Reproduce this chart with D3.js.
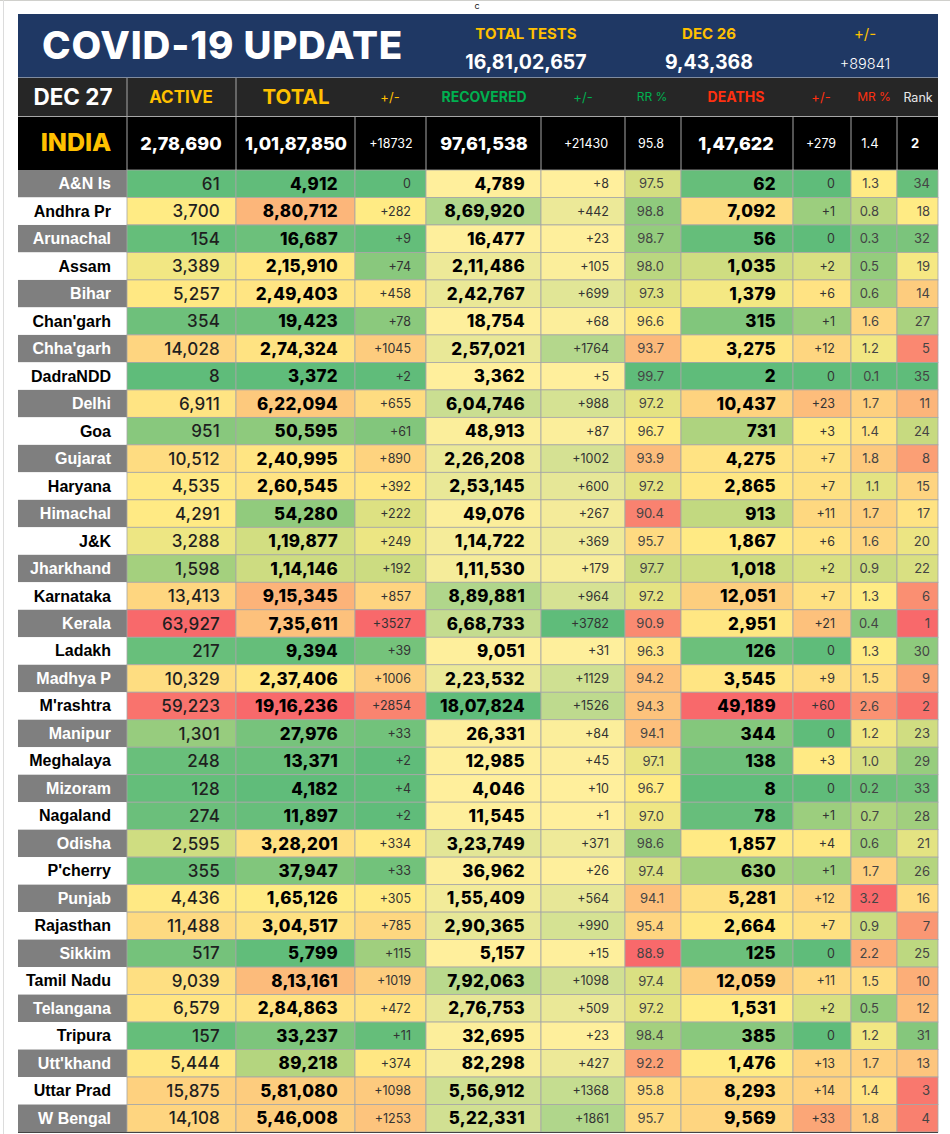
<!DOCTYPE html>
<html>
<head>
<meta charset="utf-8">
<script src="https://cdn.jsdelivr.net/npm/d3@7"></script>
<style>
  body { margin: 0; background: #fff; }
  text { font-family: Inter, sans-serif; dominant-baseline: alphabetic; }
</style>
</head>
<body>
<svg id="chart" width="950" height="1134"></svg>
<script>
// values
var states = ["A&N Is","Andhra Pr","Arunachal","Assam","Bihar","Chan'garh","Chha'garh","DadraNDD","Delhi","Goa","Gujarat","Haryana","Himachal","J&K","Jharkhand","Karnataka","Kerala","Ladakh","Madhya P","M'rashtra","Manipur","Meghalaya","Mizoram","Nagaland","Odisha","P'cherry","Punjab","Rajasthan","Sikkim","Tamil Nadu","Telangana","Tripura","Utt'khand","Uttar Prad","W Bengal"];
var active = [61,3700,154,3389,5257,354,14028,8,6911,951,10512,4535,4291,3288,1598,13413,63927,217,10329,59223,1301,248,128,274,2595,355,4436,11488,517,9039,6579,157,5444,15875,14108];
var total = [4912,880712,16687,215910,249403,19423,274324,3372,622094,50595,240995,260545,54280,119877,114146,915345,735611,9394,237406,1916236,27976,13371,4182,11897,328201,37947,165126,304517,5799,813161,284863,33237,89218,581080,546008];
var totalDelta = [0,282,9,74,458,78,1045,2,655,61,890,392,222,249,192,857,3527,39,1006,2854,33,2,4,2,334,33,305,785,115,1019,472,11,374,1098,1253];
var recovered = [4789,869920,16477,211486,242767,18754,257021,3362,604746,48913,226208,253145,49076,114722,111530,889881,668733,9051,223532,1807824,26331,12985,4046,11545,323749,36962,155409,290365,5157,792063,276753,32695,82298,556912,522331];
var recoveredDelta = [8,442,23,105,699,68,1764,5,988,87,1002,600,267,369,179,964,3782,31,1129,1526,84,45,10,1,371,26,564,990,15,1098,509,23,427,1368,1861];
var recoveryRate = [97.5,98.8,98.7,98.0,97.3,96.6,93.7,99.7,97.2,96.7,93.9,97.2,90.4,95.7,97.7,97.2,90.9,96.3,94.2,94.3,94.1,97.1,96.7,97.0,98.6,97.4,94.1,95.4,88.9,97.4,97.2,98.4,92.2,95.8,95.7];
var deaths = [62,7092,56,1035,1379,315,3275,2,10437,731,4275,2865,913,1867,1018,12051,2951,126,3545,49189,344,138,8,78,1857,630,5281,2664,125,12059,1531,385,1476,8293,9569];
var deathsDelta = [0,1,0,2,6,1,12,0,23,3,7,7,11,6,2,7,21,0,9,60,0,3,0,1,4,1,12,7,0,11,2,0,13,14,33];
var mortalityRate = [1.3,0.8,0.3,0.5,0.6,1.6,1.2,0.1,1.7,1.4,1.8,1.1,1.7,1.6,0.9,1.3,0.4,1.3,1.5,2.6,1.2,1.0,0.2,0.7,0.6,1.7,3.2,0.9,2.2,1.5,0.5,1.2,1.7,1.4,1.8];
var rank = [34,18,32,19,14,27,5,35,11,24,8,15,17,20,22,6,1,30,9,2,23,29,33,28,21,26,16,7,25,10,12,31,13,3,4];

var indiaRow = ["2,78,690","1,01,87,850","+18732","97,61,538","+21430","95.8","1,47,622","+279","1.4","2"];
var headLabels = ["ACTIVE","TOTAL","+/-","RECOVERED","+/-","RR %","DEATHS","+/-","MR %","Rank"];

var green = "#5FBC7A", yellow = "#FFEB84", red = "#F8696B", paleYellow = "#FFEF9C";

// indian digit grouping, 12,34,567
var inr = d3.formatLocale({ decimal: ".", thousands: ",", grouping: [3,2,2,2,2], currency: ["",""] }).format(",d");
var delta = function(v) { return v > 0 ? "+" + v : "0"; };
var fixed1 = d3.format(".1f");

// 3 colour scale like the spreadsheet one: min, midpoint percentile, max
function heat(values, reverse, pct) {
  var sorted = values.slice().sort(d3.ascending);
  var dom = [sorted[0], d3.quantileSorted(sorted, pct || 0.5), sorted[sorted.length - 1]];
  return d3.scaleLinear().domain(dom).range(reverse ? [red, yellow, green] : [green, yellow, red]);
}
function ramp(values) {
  return d3.scaleLinear().domain(d3.extent(values)).range([paleYellow, green]);
}

var columns = [
  { values: active, text: inr, color: heat(active), right: 220, size: 17, weight: 500, fill: "#1f1f1f", spacing: 0.2 },
  { values: total, text: inr, color: heat(total), right: 338, size: 17, weight: 800, fill: "#000", spacing: 0.3 },
  { values: totalDelta, text: delta, color: heat(totalDelta), right: 411, size: 12.5, weight: 400, fill: "#333", spacing: 0 },
  { values: recovered, text: inr, color: ramp(recovered), right: 525, size: 17, weight: 800, fill: "#000", spacing: 0.3 },
  { values: recoveredDelta, text: delta, color: ramp(recoveredDelta), right: 609, size: 12.5, weight: 400, fill: "#333", spacing: 0 },
  { values: recoveryRate, text: fixed1, color: heat(recoveryRate, true), right: 664, size: 13, weight: 400, fill: "#444", spacing: 0 },
  { values: deaths, text: inr, color: heat(deaths), right: 776, size: 17, weight: 800, fill: "#000", spacing: 0.3 },
  { values: deathsDelta, text: delta, color: heat(deathsDelta, false, 0.43), right: 835, size: 12.5, weight: 400, fill: "#333", spacing: 0 },
  { values: mortalityRate, text: fixed1, color: heat(mortalityRate), right: 879, size: 13, weight: 400, fill: "#444", spacing: 0 },
  { values: rank, text: String, color: heat(rank, true), right: 930, size: 13, weight: 400, fill: "#444", spacing: 0 }
];

var edges = [127,236,355,426,541,625,681,793,851,897,938];
var left = 18, bodyTop = 170, bodyBottom = 1132;

var svg = d3.select("#chart");
var y = d3.scaleBand().domain(states).range([bodyTop, bodyBottom]);
var x = d3.scaleOrdinal().domain(d3.range(columns.length + 1)).range(edges);

// frame of the screenshot
svg.append("rect").attr("width", 950).attr("height", 1).attr("fill", "#d0d0cc");
svg.append("rect").attr("x", 3).attr("width", 1).attr("height", 1134).attr("fill", "#dcdcdc");
svg.append("text").attr("x", 477).attr("y", 9).attr("text-anchor", "middle")
  .style("font-size", "9px").attr("fill", "#222").text("c");

// banner
svg.append("rect").attr("x", left).attr("y", 14).attr("width", 920).attr("height", 63).attr("fill", "#1F3864");
svg.append("text").attr("x", 42).attr("y", 59).attr("fill", "#fff")
  .style("font-size", "38.5px").style("font-weight", 800).style("letter-spacing", "0.8px").text("COVID-19 UPDATE");

var gold = "#FFC000";
var banner = [
  { cx: 526, top: "TOTAL TESTS", val: "16,81,02,657", w: 700, s: 19.5, t: 15 },
  { cx: 709, top: "DEC 26", val: "9,43,368", w: 700, s: 19.5, t: 15 },
  { cx: 865, top: "+/-", val: "+89841", w: 300, s: 14.5, t: 15 }
];
banner.forEach(function(b) {
  svg.append("text").attr("x", b.cx).attr("y", 39).attr("text-anchor", "middle").attr("fill", gold)
    .style("font-size", b.t + "px").style("font-weight", b.w === 700 ? 700 : 400).text(b.top);
  svg.append("text").attr("x", b.cx).attr("y", 69).attr("text-anchor", "middle").attr("fill", "#fff")
    .style("font-size", b.s + "px").style("font-weight", b.w).text(b.val);
});

// header rows
svg.append("rect").attr("x", left).attr("y", 78).attr("width", 920).attr("height", 39).attr("fill", "#262626");
svg.append("rect").attr("x", left).attr("y", 117).attr("width", 920).attr("height", 53).attr("fill", "#000");

svg.append("text").attr("x", 73).attr("y", 105).attr("text-anchor", "middle").attr("fill", "#fff")
  .style("font-size", "22.5px").style("font-weight", 700).text("DEC 27");
svg.append("text").attr("x", 76).attr("y", 151).attr("text-anchor", "middle").attr("fill", gold)
  .style("font-size", "25px").style("font-weight", 800).text("INDIA");

var headStyle = [
  { c: gold, s: 17, w: 700, cx: 181 }, { c: gold, s: 20.5, w: 700, cx: 296 }, { c: gold, s: 13, w: 400, cx: 390 },
  { c: "#00B050", s: 14, w: 700, cx: 484 }, { c: "#00B050", s: 13, w: 400, cx: 583 }, { c: "#00B050", s: 12, w: 400, cx: 652 },
  { c: "#FF3010", s: 14, w: 700, cx: 736 }, { c: "#FF3010", s: 13, w: 400, cx: 821 }, { c: "#FF3010", s: 12, w: 400, cx: 874 },
  { c: "#e8e8e8", s: 12.5, w: 400, cx: 918 }
];
svg.selectAll("text.head").data(headLabels).join("text").attr("class", "head")
  .attr("x", function(d, i) { return headStyle[i].cx; })
  .attr("y", function(d, i) { return 97 + headStyle[i].s * 0.36; })
  .attr("text-anchor", "middle")
  .attr("fill", function(d, i) { return headStyle[i].c; })
  .style("font-size", function(d, i) { return headStyle[i].s + "px"; })
  .style("font-weight", function(d, i) { return headStyle[i].w; })
  .text(function(d) { return d; });

var indiaCx = [181,296,391,484,586,651,736,821,870,915];
var indiaSize = [18,18,12.5,18,12.5,12.5,18,12.5,13,13];
svg.selectAll("text.india").data(indiaRow).join("text").attr("class", "india")
  .attr("x", function(d, i) { return indiaCx[i]; })
  .attr("y", function(d, i) { return indiaSize[i] === 18 ? 149.5 : 148; })
  .attr("text-anchor", "middle").attr("fill", "#fff")
  .style("font-size", function(d, i) { return indiaSize[i] + "px"; })
  .style("font-weight", function(d, i) { return indiaSize[i] === 18 ? 800 : (i === 9 ? 700 : 400); })
  .text(function(d) { return d; });

// state names column
var names = svg.append("g").selectAll("g").data(states).join("g")
  .attr("transform", function(d) { return "translate(0," + y(d) + ")"; });
names.append("rect").attr("x", left).attr("width", 109).attr("height", y.bandwidth())
  .attr("fill", function(d, i) { return i % 2 ? "#fff" : "#7F7F7F"; });
names.append("text").attr("x", 111).attr("y", y.bandwidth() / 2 + 5.5).attr("text-anchor", "end")
  .attr("fill", function(d, i) { return i % 2 ? "#000" : "#fff"; })
  .style("font-family", "'Liberation Sans', Arial, sans-serif")
  .style("font-size", "16px").style("font-weight", 700)
  .text(function(d) { return d; });

// heat cells, one column group each
columns.forEach(function(col, c) {
  var g = svg.append("g");
  var cells = g.selectAll("g").data(col.values).join("g")
    .attr("transform", function(d, i) { return "translate(" + x(c) + "," + y(states[i]) + ")"; });
  cells.append("rect")
    .attr("width", x(c + 1) - x(c)).attr("height", y.bandwidth())
    .attr("fill", function(d) { return col.color(d); })
    .attr("stroke", "#A6A6A6").attr("stroke-width", 0.8);
  cells.append("text")
    .attr("x", col.right - x(c))
    .attr("y", y.bandwidth() / 2 + col.size * 0.36)
    .attr("text-anchor", "end").attr("fill", col.fill)
    .style("font-size", col.size + "px").style("font-weight", col.weight)
    .style("letter-spacing", col.spacing + "px")
    .text(function(d) { return col.text(d); });
});

// rules in the header, the dark row only has two of them
[127,236].forEach(function(px) {
  svg.append("line").attr("x1", px).attr("x2", px).attr("y1", 78).attr("y2", 117).attr("stroke", "#A6A6A6");
});
edges.slice(0, -1).forEach(function(px) {
  svg.append("line").attr("x1", px).attr("x2", px).attr("y1", 117).attr("y2", 170).attr("stroke", "#A6A6A6");
});
svg.append("line").attr("x1", left).attr("x2", 938).attr("y1", 77.5).attr("y2", 77.5).attr("stroke", "#7f8ba0");
svg.append("line").attr("x1", left).attr("x2", 938).attr("y1", 116.5).attr("y2", 116.5).attr("stroke", "#A6A6A6");
svg.append("line").attr("x1", left).attr("x2", 938).attr("y1", 1132.5).attr("y2", 1132.5).attr("stroke", "#444");
</script>
</body>
</html>
